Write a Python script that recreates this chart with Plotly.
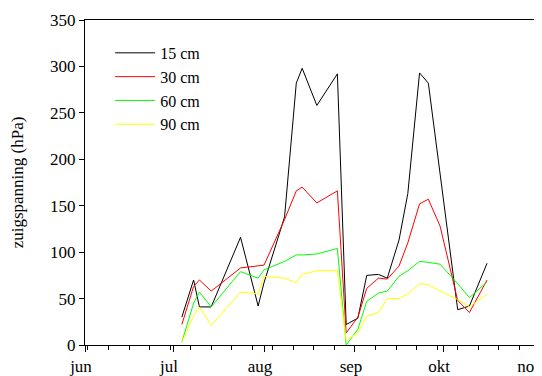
import plotly.graph_objects as go

dates = ["2001-07-04", "2001-07-08", "2001-07-10", "2001-07-14", "2001-07-24",
         "2001-07-30", "2001-08-01", "2001-08-08", "2001-08-12", "2001-08-14",
         "2001-08-19", "2001-08-26", "2001-08-29", "2001-09-02", "2001-09-05",
         "2001-09-09", "2001-09-12", "2001-09-16", "2001-09-19", "2001-09-23",
         "2001-09-26", "2001-09-30", "2001-10-06", "2001-10-10", "2001-10-16"]

cm15 = [30, 70, 41, 41, 116, 42, 67, 138, 282, 298, 258, 292, 22, 29, 75,
        76, 72, 113, 163, 293, 282, 185, 38, 42, 88]
cm30 = [22, 63, 70, 58, 83, 85, 86, 135, 166, 170, 153, 166, 13, 30, 61,
        72, 71, 85, 110, 152, 157, 128, 48, 35, 70]
cm60 = [3, 45, 57, 41, 79, 72, 81, 90, 97, 97, 98, 104, 0, 17, 47,
        56, 58, 74, 80, 90, 89, 87, 66, 51, 68]
cm90 = [3, 32, 41, 21, 57, 55, 74, 72, 67, 76, 80, 80, 5, 13, 31,
        35, 50, 50, 55, 66, 65, 58, 49, 41, 55]

series_names = ["15 cm", "30 cm", "60 cm", "90 cm"]
series_colors = ["#000000", "#FF0000", "#00FF00", "#FFFF00"]

month_vals = ["2001-06-01", "2001-07-01", "2001-08-01", "2001-09-01",
              "2001-10-01", "2001-11-01"]
month_text = ["jun", "jul", "aug", "sep", "okt", "nov"]
y_ticks = [0, 50, 100, 150, 200, 250, 300, 350]

FONT = "Liberation Serif, Times New Roman, Times, serif"

fig = go.Figure()
for name, vals, col in zip(series_names, [cm15, cm30, cm60, cm90], series_colors):
    fig.add_trace(go.Scatter(x=dates, y=vals, mode="lines", name=name,
                             line=dict(color=col, width=1)))

# the page body adds an 8px margin, so the figure is 8px smaller and margins shifted
fig.update_layout(
    width=534, height=368,
    margin=dict(l=77, r=8, t=12, b=31, autoexpand=False),
    paper_bgcolor="white", plot_bgcolor="white",
    font=dict(family=FONT, size=17, color="black"),
    showlegend=True,
    legend=dict(x=0.056, y=0.951, xanchor="left", yanchor="top",
                bgcolor="rgba(0,0,0,0)", font=dict(size=16, family=FONT, color="black"),
                itemwidth=40, tracegroupgap=0),
    xaxis=dict(
        type="date", automargin=False,
        range=["2001-06-01", "2001-11-01"],
        tickmode="array", tickvals=month_vals, ticktext=month_text,
        tickfont=dict(family=FONT, size=17, color="black"),
        ticks="outside", ticklen=6, tickcolor="black", tickwidth=1,
        showline=True, linecolor="black", linewidth=1, mirror=True,
        showgrid=False, zeroline=False,
        ticklabelshift=-4, ticklabeloverflow="allow",
        minor=dict(ticks="outside", ticklen=4, tickcolor="black",
                   tick0="2001-06-02", dtick=7 * 86400000, showgrid=False),
    ),
    yaxis=dict(
        automargin=False,
        range=[0, 350],
        tickmode="array", tickvals=y_ticks,
        tickfont=dict(family=FONT, size=17, color="black"),
        ticks="outside", ticklen=5, tickcolor="black",
        showline=True, linecolor="black", linewidth=1, mirror=True,
        showgrid=False, zeroline=False,
        title=dict(text="zuigspanning (hPa)", font=dict(size=17, family=FONT, color="black"),
                   standoff=26),
    ),
)

fig.write_html("out.html")
